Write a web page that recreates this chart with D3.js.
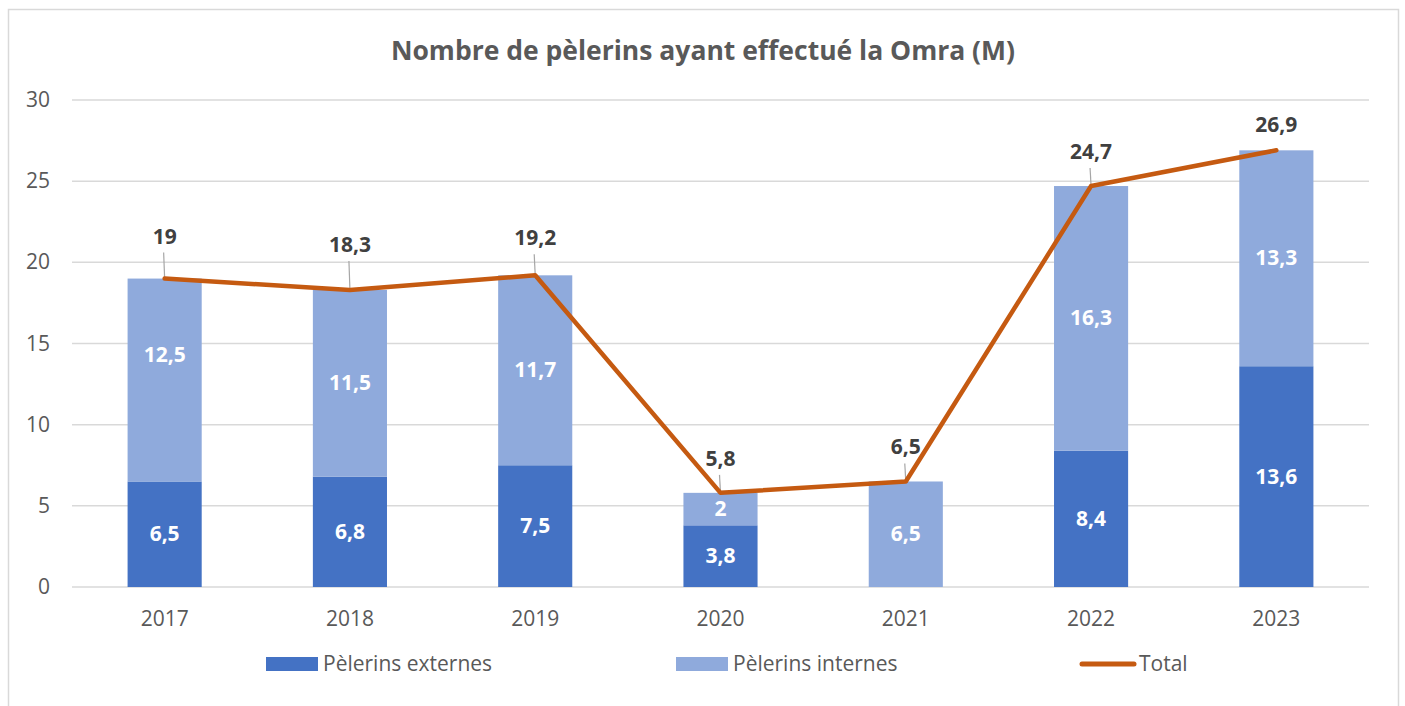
<!DOCTYPE html>
<html>
<head>
<meta charset="utf-8">
<script src="https://cdn.jsdelivr.net/npm/d3@7"></script>
<style>
  body { margin: 0; background: #fff; }
  svg { display: block; font-family: "Open Sans", sans-serif; }
</style>
</head>
<body>
<svg id="chart" width="1405" height="706"></svg>
<script>

// Data (millions)
var years = ['2017', '2018', '2019', '2020', '2021', '2022', '2023'];
var externes = [6.5, 6.8, 7.5, 3.8, 0, 8.4, 13.6];
var internes = [12.5, 11.5, 11.7, 2, 6.5, 16.3, 13.3];
var totals = [19, 18.3, 19.2, 5.8, 6.5, 24.7, 26.9];
var yTicks = [0, 5, 10, 15, 20, 25, 30];

// label placement tweaks (pixels), like the hand moved labels of the original
var totalLabelLift = [42, 45, 37, 34, 34, 34, 25];
var internLabelShift = [-25, 0, 0, 0, 0, 0, 0];

var colExt = '#4472C4', colInt = '#8FAADC', colTotal = '#C55A11';
var textGrey = '#595959', labelDark = '#404040';

var svg = d3.select('#chart');

// chart border
svg.append('rect')
		.attr('x', 8.5).attr('y', 9.5)
		.attr('width', 1390).attr('height', 720)
		.style('fill', '#fff')
		.style('stroke', '#d9d9d9')
		.style('stroke-width', 1.5);

// title
svg.append('text')
		.attr('x', 703).attr('y', 60)
		.attr('text-anchor', 'middle')
		.style('font-size', '26.5px')
		.style('font-weight', 'bold')
		.style('fill', textGrey)
		.text('Nombre de pèlerins ayant effectué la Omra (M)');

var plotLeft = 72, plotRight = 1369, plotTop = 100, plotBottom = 587;

var x = d3.scaleBand().domain(years).range([plotLeft, plotRight]).paddingInner(0.6).paddingOuter(0.3);
var y = d3.scaleLinear().domain([0, 30]).range([plotBottom, plotTop]);

// gridlines + y labels
var g = svg.append('g');
g.selectAll('.grid').data(yTicks).enter().append('line')
		.attr('x1', plotLeft).attr('x2', plotRight)
		.attr('y1', function(d) { return y(d); })
		.attr('y2', function(d) { return y(d); })
		.style('stroke', '#d9d9d9')
		.style('stroke-width', 1.5);

g.selectAll('.ytick').data(yTicks).enter().append('text')
		.attr('x', 50)
		.attr('y', function(d) { return y(d) + 7; })
		.attr('text-anchor', 'end')
		.style('font-size', '21px')
		.style('fill', textGrey)
		.text(function(d) { return d; });

// x labels
g.selectAll('.xtick').data(years).enter().append('text')
		.attr('x', function(d) { return x(d) + x.bandwidth() / 2; })
		.attr('y', plotBottom + 39)
		.attr('text-anchor', 'middle')
		.style('font-size', '21px')
		.style('fill', textGrey)
		.text(function(d) { return d; });

var rows = years.map(function(yr, i) {
	return { year: yr, ext: externes[i], int: internes[i], total: totals[i], i: i };
});

// stacked bars
g.selectAll('.barExt').data(rows).enter().append('rect')
		.attr('x', function(d) { return x(d.year); })
		.attr('width', x.bandwidth())
		.attr('y', function(d) { return y(d.ext); })
		.attr('height', function(d) { return y(0) - y(d.ext); })
		.style('fill', colExt);

g.selectAll('.barInt').data(rows).enter().append('rect')
		.attr('x', function(d) { return x(d.year); })
		.attr('width', x.bandwidth())
		.attr('y', function(d) { return y(d.ext + d.int); })
		.attr('height', function(d) { return y(d.ext) - y(d.ext + d.int); })
		.style('fill', colInt);

// values inside bars
g.selectAll('.lblExt').data(rows.filter(function(d) { return d.ext > 0; })).enter().append('text')
		.attr('x', function(d) { return x(d.year) + x.bandwidth() / 2; })
		.attr('y', function(d) { return y(d.ext / 2) + 7; })
		.attr('text-anchor', 'middle')
		.style('font-size', '21px')
		.style('font-weight', 'bold')
		.style('fill', '#fff')
		.text(function(d) { return String(d.ext).replace('.', ','); });

g.selectAll('.lblInt').data(rows).enter().append('text')
		.attr('x', function(d) { return x(d.year) + x.bandwidth() / 2; })
		.attr('y', function(d) { return y(d.ext + d.int / 2) + 7 + internLabelShift[d.i]; })
		.attr('text-anchor', 'middle')
		.style('font-size', '21px')
		.style('font-weight', 'bold')
		.style('fill', '#fff')
		.text(function(d) { return String(d.int).replace('.', ','); });

// total line
var cx = function(d) { return x(d.year) + x.bandwidth() / 2; };

// leader lines for total labels
g.selectAll('.leader').data(rows.filter(function(d) { return totalLabelLift[d.i] > 28; })).enter().append('line')
		.attr('x1', function(d) { return cx(d) - 1; })
		.attr('x2', cx)
		.attr('y1', function(d) { return y(d.total) - totalLabelLift[d.i] + 16; })
		.attr('y2', function(d) { return y(d.total); })
		.style('stroke', '#a6a6a6')
		.style('stroke-width', 1.2);

var totalLine = d3.line()
		.x(cx)
		.y(function(d) { return y(d.total); });

g.append('path').datum(rows)
		.style('fill', 'none')
		.style('stroke', colTotal)
		.style('stroke-width', 4.5)
		.style('stroke-linejoin', 'round')
		.style('stroke-linecap', 'round')
		.attr('d', totalLine);

g.selectAll('.lblTotal').data(rows).enter().append('text')
		.attr('x', cx)
		.attr('y', function(d) { return y(d.total) - totalLabelLift[d.i] + 7; })
		.attr('text-anchor', 'middle')
		.style('font-size', '21px')
		.style('font-weight', 'bold')
		.style('fill', labelDark)
		.text(function(d) { return String(d.total).replace('.', ','); });

// legend
var legend = svg.append('g');
var legendY = 664;

legend.append('rect').attr('x', 266).attr('y', legendY - 7).attr('width', 52).attr('height', 14).style('fill', colExt);
legend.append('text').attr('x', 323).attr('y', legendY + 7)
		.style('font-size', '21px').style('fill', textGrey).text('Pèlerins externes');

legend.append('rect').attr('x', 676).attr('y', legendY - 7).attr('width', 52).attr('height', 14).style('fill', colInt);
legend.append('text').attr('x', 733).attr('y', legendY + 7)
		.style('font-size', '21px').style('fill', textGrey).text('Pèlerins internes');

legend.append('line').attr('x1', 1082).attr('x2', 1134).attr('y1', legendY).attr('y2', legendY)
		.style('stroke', colTotal).style('stroke-width', 5).style('stroke-linecap', 'round');
legend.append('text').attr('x', 1139).attr('y', legendY + 7)
		.style('font-size', '21px').style('fill', textGrey).text('Total');

</script>
</body>
</html>
